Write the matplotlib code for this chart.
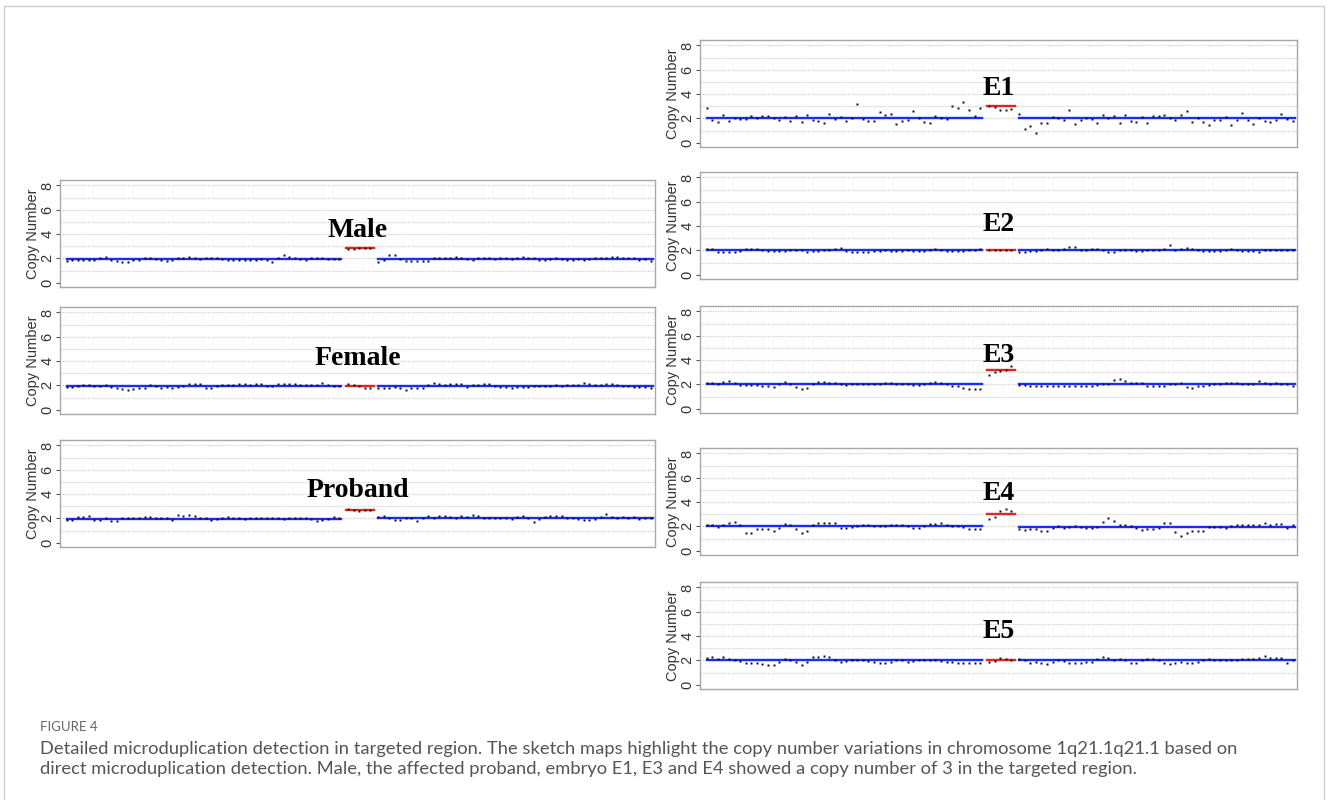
import numpy as np
import matplotlib
matplotlib.use("Agg")
import matplotlib.pyplot as plt
from matplotlib.patches import Rectangle

# ---- copy-number values (left arm / target / right arm) ----
SAMPLES = ["Male", "Female", "Proband", "E1", "E2", "E3", "E4", "E5"]

male_left = [1.8, 1.9, 1.85, 1.85, 1.85, 1.85, 2.0, 2.1, 1.9, 1.8,
             1.7, 1.7, 1.85, 1.9, 2.05, 2.05, 1.95, 1.9, 1.8, 1.85,
             2.0, 2.05, 2.1, 2.0, 1.95, 2.0, 2.0, 2.0, 1.95, 1.85,
             1.85, 1.9, 1.85, 1.85, 1.85, 1.95, 1.85, 1.7, 2.05, 2.3,
             2.1, 2.0, 1.95, 1.9, 2.0, 2.0, 2.0, 1.95, 1.95, 1.95]
male_mid = [2.8, 2.8, 2.85, 2.85, 2.85]
male_right = [1.7, 1.85, 2.3, 2.25, 1.95, 1.75, 1.8, 1.8, 1.8, 1.8,
              2.0, 2.05, 2.0, 2.05, 2.1, 2.05, 1.95, 1.85, 2.0, 2.0,
              2.0, 1.95, 2.0, 2.05, 1.95, 2.0, 2.1, 2.0, 2.0, 1.85,
              1.85, 1.95, 2.0, 1.95, 1.85, 1.9, 1.95, 1.85, 1.95, 2.0,
              2.05, 2.05, 2.15, 2.1, 2.05, 2.05, 2.0, 1.9, 1.95, 1.8]

female_left = [1.9, 1.85, 1.95, 2.0, 2.0, 1.95, 1.95, 2.0, 1.9, 1.8,
               1.7, 1.65, 1.7, 1.8, 1.75, 2.0, 1.95, 1.75, 1.9, 1.8,
               1.85, 1.95, 2.1, 2.15, 2.1, 1.8, 1.8, 1.95, 2.0, 2.0,
               2.05, 2.1, 2.1, 2.05, 2.1, 2.1, 1.95, 1.95, 2.1, 2.1,
               2.1, 2.1, 2.05, 2.05, 2.05, 2.0, 2.2, 2.0, 1.95, 1.95]
female_mid = [2.15, 2.05, 1.95, 1.75, 1.75]
female_right = [1.75, 1.8, 1.8, 1.85, 1.8, 1.65, 1.75, 1.75, 1.8, 2.0,
                2.2, 2.1, 2.05, 2.1, 2.15, 2.1, 1.9, 2.0, 2.0, 2.1,
                2.1, 1.95, 1.9, 1.85, 1.8, 1.85, 1.9, 1.9, 1.95, 1.95,
                1.95, 1.95, 2.0, 1.95, 2.0, 2.0, 2.0, 2.2, 2.1, 2.05,
                2.05, 2.1, 2.1, 2.05, 1.95, 1.95, 1.9, 1.85, 1.9, 1.8]

proband_left = [1.85, 1.85, 2.15, 2.15, 2.2, 1.85, 1.85, 2.0, 1.8, 1.8,
                2.0, 2.0, 2.0, 2.0, 2.15, 2.1, 2.05, 2.05, 2.0, 1.85,
                2.25, 2.2, 2.25, 2.2, 2.05, 2.0, 1.9, 1.95, 2.0, 2.15,
                2.0, 2.0, 1.95, 2.05, 2.0, 2.0, 2.0, 2.0, 2.0, 1.95,
                2.0, 2.0, 2.0, 2.0, 1.95, 1.75, 1.85, 1.95, 2.15, 2.05]
proband_mid = [2.75, 2.7, 2.65, 2.7, 2.7]
proband_right = [2.15, 2.2, 2.0, 1.85, 1.85, 2.05, 2.0, 1.8, 2.05, 2.2,
                 2.0, 2.2, 2.2, 2.15, 2.05, 2.2, 2.1, 2.3, 2.2, 2.0,
                 2.05, 2.05, 2.05, 2.05, 1.95, 2.1, 2.2, 2.0, 1.7, 1.95,
                 2.15, 2.2, 2.2, 2.2, 2.05, 2.0, 1.95, 1.85, 1.85, 1.95,
                 2.15, 2.35, 2.15, 2.0, 2.1, 2.05, 2.1, 1.95, 2.0, 2.0]

e1_left = [2.83, 1.86, 1.67, 2.3, 1.75, 2.05, 1.92, 1.92, 2.17, 2.0,
           2.17, 2.17, 2.0, 1.86, 2.14, 1.8, 2.17, 1.72, 2.25, 1.86,
           1.75, 1.6, 2.36, 1.92, 2.1, 1.8, 2.0, 3.22, 1.92, 1.78,
           1.75, 2.5, 2.3, 2.33, 1.56, 1.78, 1.89, 2.64, 2.05, 1.7,
           1.6, 2.17, 2.03, 1.95, 3.05, 2.83, 3.36, 2.7, 2.22, 2.86]
e1_mid = [3.0, 2.92, 2.7, 2.68, 2.75]
e1_right = [2.39, 1.14, 1.39, 0.78, 1.61, 1.61, 2.08, 2.03, 1.83, 2.72,
            1.58, 1.89, 2.03, 1.92, 1.61, 2.28, 2.05, 2.19, 1.61, 2.28,
            1.78, 1.67, 2.08, 1.64, 2.19, 2.19, 2.28, 2.05, 1.89, 2.28,
            2.61, 1.72, 2.05, 1.72, 1.44, 1.89, 1.89, 2.11, 1.42, 1.89,
            2.47, 1.86, 1.53, 2.0, 1.78, 1.67, 1.83, 2.36, 1.92, 1.8]

e2_left = [2.1, 2.1, 1.85, 1.85, 1.85, 1.85, 1.95, 2.1, 2.1, 2.1,
           2.05, 1.95, 1.95, 1.95, 1.95, 2.0, 2.05, 2.05, 1.85, 1.95,
           1.95, 2.0, 2.0, 2.15, 2.2, 1.95, 1.9, 1.85, 1.9, 1.9,
           1.95, 1.95, 2.05, 1.95, 1.95, 1.95, 2.0, 1.95, 1.95, 1.95,
           2.05, 2.1, 2.0, 1.95, 1.95, 1.95, 1.95, 2.05, 2.05, 2.1]
e2_mid = [2.0, 2.0, 2.0, 2.0, 2.0]
e2_right = [1.9, 1.9, 1.95, 1.95, 2.05, 2.1, 2.05, 2.05, 2.1, 2.25,
            2.25, 2.0, 2.05, 2.1, 2.1, 2.05, 1.85, 1.85, 2.05, 2.05,
            2.0, 1.95, 1.95, 2.05, 2.05, 2.05, 2.15, 2.45, 2.0, 2.1,
            2.2, 2.1, 2.0, 1.95, 1.95, 1.95, 1.95, 2.0, 2.1, 2.0,
            1.95, 1.95, 1.95, 1.9, 2.0, 2.05, 2.05, 2.05, 2.05, 2.05]

e3_left = [2.1, 2.1, 2.0, 2.2, 2.25, 2.15, 1.95, 1.95, 1.95, 1.95,
           1.9, 1.9, 1.8, 2.0, 2.2, 2.05, 1.8, 1.65, 1.7, 2.05,
           2.2, 2.2, 2.15, 2.15, 2.0, 1.95, 2.05, 2.05, 2.05, 2.0,
           2.0, 2.05, 2.1, 2.15, 2.05, 2.05, 2.05, 1.95, 1.95, 2.05,
           2.1, 2.2, 2.15, 2.05, 1.85, 1.85, 1.7, 1.6, 1.6, 1.65]
e3_mid = [2.75, 3.05, 3.1, 3.2, 3.5]
e3_right = [1.95, 1.95, 1.9, 1.9, 1.9, 1.9, 1.9, 1.85, 1.9, 1.9,
            1.85, 1.85, 1.85, 1.9, 1.95, 2.0, 2.0, 2.35, 2.45, 2.3,
            2.1, 2.15, 2.15, 1.85, 1.85, 1.85, 1.85, 2.0, 2.05, 2.1,
            1.75, 1.7, 1.85, 1.85, 1.95, 2.0, 2.05, 2.1, 2.15, 2.15,
            2.05, 2.05, 2.05, 2.25, 2.1, 2.05, 2.15, 2.05, 2.05, 1.85]

e4_left = [2.1, 2.1, 1.95, 2.15, 2.3, 2.35, 2.1, 1.5, 1.5, 1.75,
           1.8, 1.75, 1.65, 1.85, 2.2, 2.1, 1.75, 1.45, 1.6, 2.1,
           2.3, 2.3, 2.3, 2.25, 1.85, 1.85, 1.95, 2.05, 2.1, 2.1,
           2.05, 2.05, 2.05, 2.1, 2.15, 2.15, 2.0, 1.9, 1.9, 2.0,
           2.2, 2.2, 2.3, 2.1, 2.0, 2.0, 1.95, 1.75, 1.75, 1.75]
e4_mid = [2.6, 2.75, 3.25, 3.4, 3.25]
e4_right = [1.75, 1.7, 1.75, 1.8, 1.6, 1.65, 1.9, 2.0, 1.9, 1.95,
            2.0, 1.95, 1.9, 1.9, 1.95, 2.4, 2.7, 2.45, 2.15, 2.1,
            2.0, 1.85, 1.7, 1.75, 1.75, 1.9, 2.25, 2.25, 1.55, 1.25,
            1.45, 1.6, 1.6, 1.6, 1.95, 1.95, 1.95, 1.85, 2.05, 2.15,
            2.1, 2.1, 2.15, 2.1, 2.25, 2.1, 2.2, 2.2, 1.9, 2.15]

e5_left = [2.2, 2.25, 2.1, 2.25, 2.15, 2.0, 1.95, 1.8, 1.8, 1.8,
           1.7, 1.65, 1.65, 1.85, 2.1, 2.05, 1.9, 1.65, 1.9, 2.25,
           2.3, 2.4, 2.25, 2.0, 1.9, 1.95, 2.0, 2.05, 2.0, 1.95,
           1.85, 1.8, 1.8, 1.85, 2.0, 2.0, 1.9, 1.95, 2.0, 2.0,
           2.0, 2.0, 1.95, 1.85, 1.85, 1.8, 1.8, 1.75, 1.75, 1.8]
e5_mid = [1.9, 1.95, 2.2, 2.15, 2.0]
e5_right = [2.1, 2.0, 1.75, 1.9, 1.8, 1.7, 1.85, 2.0, 1.95, 1.75,
            1.8, 1.8, 1.85, 1.85, 2.1, 2.3, 2.2, 2.05, 2.1, 2.0,
            1.8, 1.8, 2.0, 2.15, 2.15, 2.05, 1.8, 1.7, 1.75, 1.85,
            1.75, 1.75, 1.9, 2.05, 2.1, 2.0, 2.05, 2.05, 2.05, 2.05,
            2.1, 2.1, 2.1, 2.2, 2.35, 2.2, 2.2, 2.2, 1.8, 2.0]

# segment calls: (left arm, right arm) in blue, target region in red
BLUE_CALLS = [(1.95, 1.95), (1.95, 1.95), (1.97, 2.03), (2.0, 2.0),
              (2.0, 2.05), (2.03, 2.03), (2.0, 1.95), (2.0, 2.0)]
RED_CALLS = [2.85, 1.95, 2.7, 3.0, 2.0, 3.15, 3.05, 2.0]

LEFT = [male_left, female_left, proband_left, e1_left, e2_left, e3_left, e4_left, e5_left]
MID = [male_mid, female_mid, proband_mid, e1_mid, e2_mid, e3_mid, e4_mid, e5_mid]
RIGHT = [male_right, female_right, proband_right, e1_right, e2_right, e3_right, e4_right, e5_right]

CAPTION_HEAD = "FIGURE 4"
CAPTION = ("Detailed microduplication detection in targeted region. The sketch maps highlight the copy number "
           "variations in chromosome 1q21.1q21.1 based on\n"
           "direct microduplication detection. Male, the affected proband, embryo E1, E3 and E4 showed a copy "
           "number of 3 in the targeted region.")

BLUE, RED, GRID, FRAME = "#1a2cf5", "#e3241f", "#cfcfcf", "#a8a8a8"

# ---- layout (pixels, from top-left of a 1328x800 canvas) ----
W, H = 1328, 800
PANEL_H = 107
# name: (frame left, frame top, frame width, title y in data units)
LAYOUT = {
    "Male":    (60, 180, 595, 4.3),
    "Female":  (60, 307, 595, 4.2),
    "Proband": (60, 440, 595, 4.3),
    "E1":      (700, 40, 597, 4.5),
    "E2":      (700, 172, 597, 4.1),
    "E3":      (700, 306, 597, 4.4),
    "E4":      (700, 448, 597, 4.7),
    "E5":      (700, 582, 597, 4.4),
}

fig = plt.figure(figsize=(W / 100, H / 100), dpi=100)
fig.patch.set_facecolor("white")

# thin page border
fig.add_artist(Rectangle((4 / W, -0.01), (W - 8) / W, 1 - 6 / H + 0.01,
                         transform=fig.transFigure, fill=False,
                         edgecolor="#cfcfcf", lw=1.0))


def draw_panel(name, left, mid, right, blue, red):
    x0, y0, w, ty = LAYOUT[name]
    ax = fig.add_axes([x0 / W, 1 - (y0 + PANEL_H) / H, w / W, PANEL_H / H])
    xl = np.arange(len(left))
    xm = 50.6 + np.arange(len(mid))
    xr = 56 + np.arange(len(right))

    for g in range(1, 9):
        ax.axhline(g, color=GRID, lw=0.9, ls=(0, (1, 1)), zorder=0)

    ax.plot([xl[0], xl[-1] + 0.3], [blue[0]] * 2, color=BLUE, lw=1.7, zorder=2)
    ax.plot([xr[0], xr[-1] + 0.5], [blue[1]] * 2, color=BLUE, lw=1.7, zorder=2)
    ax.plot([xm[0] - 0.3, xm[-1] + 0.6], [red] * 2, color=RED, lw=1.7, zorder=2)

    for xs, ys in ((xl, left), (xm, mid), (xr, right)):
        ax.plot(xs, ys, ls="none", marker="s", ms=2.0, color="#111111",
                mec="none", zorder=3)

    ax.set_xlim(-1.2, 105.8)
    ax.set_ylim(-0.35, 8.45)
    ax.set_xticks([])
    ax.set_yticks([0, 2, 4, 6, 8])
    ax.tick_params(axis="y", length=3, width=0.8, color="#555555", pad=1,
                   labelsize=10.5, labelcolor="#333333")
    for lab in ax.get_yticklabels():
        lab.set_rotation(90)
        lab.set_va("center")
        lab.set_family("Liberation Sans")
    ax.set_ylabel("Copy Number", fontsize=10.5, color="#333333", labelpad=0,
                  family="Liberation Sans")
    for sp in ax.spines.values():
        sp.set_color(FRAME)
        sp.set_linewidth(1.0)
    ax.text(0.5, ty, name, transform=ax.get_yaxis_transform(),
            ha="center", va="center", fontsize=20, fontweight="bold",
            family="Liberation Serif", color="black")
    return ax


for i, name in enumerate(SAMPLES):
    draw_panel(name, LEFT[i], MID[i], RIGHT[i], BLUE_CALLS[i], RED_CALLS[i])

fig.text(40 / W, 1 - 727 / H, CAPTION_HEAD, fontsize=9.5, color="#666666",
         family="Lato", va="center", ha="left")
fig.text(40 / W, 1 - 759 / H, CAPTION, fontsize=13.2, color="#555555",
         family="Lato", va="center", ha="left", linespacing=1.35)

fig.savefig("out.png", dpi=100, facecolor="white")
